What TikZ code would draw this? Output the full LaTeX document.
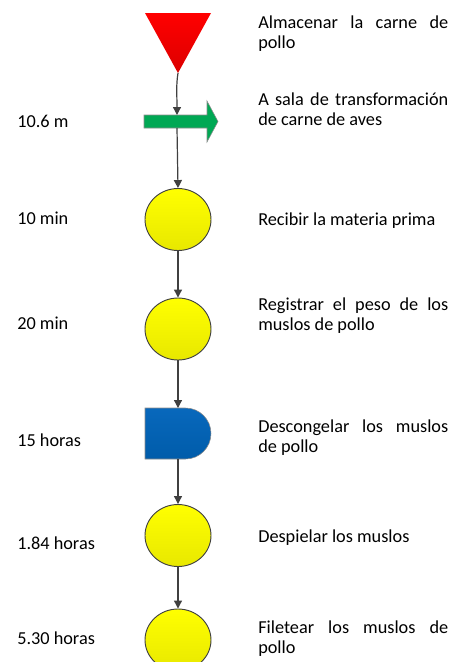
\documentclass[tikz,border=0pt]{standalone}
\usepackage{fontspec}
\setmainfont{Carlito}
\usetikzlibrary{shapes.geometric,arrows.meta}
\definecolor{lineg}{RGB}{64,64,64}
\definecolor{redA}{RGB}{255,0,0}
\definecolor{redB}{RGB}{220,0,0}
\definecolor{greenA}{RGB}{0,168,84}
\definecolor{yelA}{RGB}{255,255,0}
\definecolor{yelB}{RGB}{232,232,0}
\definecolor{blueA}{RGB}{8,104,188}
\definecolor{blueB}{RGB}{0,92,170}
\tikzset{
  lbl/.style={font=\fontsize{13.7}{15}\selectfont, inner sep=0pt},
  desc/.style={lbl, anchor=north west, text width=142.5pt, align=justify},
  opcircle/.style={ellipse, draw=lineg, line width=0.7pt, minimum width=49.5pt, minimum height=46.5pt, inner sep=0pt, top color=yelA, bottom color=yelB},
  flow/.style={draw=lineg, line width=0.9pt, -{Triangle[length=6pt,width=6pt]}},
  outl/.style={draw=lineg!70, line width=0.5pt}
}
\begin{document}
\begin{tikzpicture}[x=0.75pt,y=-0.75pt]
\useasboundingbox (0,0) rectangle (459,662);
% storage triangle
\path[outl, top color=redA, bottom color=redB, draw=none] (145,13) -- (211,13) -- (178,73) -- cycle;
\coordinate (tri) at (178,73);
% transport arrow
\path[fill=greenA, draw=lineg!60, line width=0.4pt] (144,115) -- (207,115) -- (207,101) -- (218,121.5) -- (207,142) -- (207,128) -- (144,128) -- cycle;
\coordinate (arrT) at (177,115);
\coordinate (arrB) at (177,128);
% operations
\node[opcircle] (c1) at (178,219.5) {};
\node[opcircle] (c2) at (178,329) {};
% delay
\path[top color=blueA, bottom color=blueB, draw=lineg!60, line width=0.4pt] (145,408) -- (185.5,408) arc[start angle=90, end angle=-90, radius=19.125pt] -- (145,459) -- cycle;
\coordinate (dT) at (178,408);
\coordinate (dB) at (178,459);
\node[opcircle] (c3) at (178,535.5) {};
\node[opcircle] (c4) at (178,640) {};
% connectors
\draw[flow] (tri) .. controls (176,85) and (177,95) .. (arrT);
\draw[flow] (arrB) -- (c1.north);
\draw[flow] (c1.south) -- (c2.north);
\draw[flow] (c2.south) -- (dT);
\draw[flow] (dB) -- (c3.north);
\draw[flow] (c3.south) -- (c4.north);
% left labels
\node[lbl, anchor=base west] (t1) at (17,127) {10.6 m};
\node[lbl, anchor=base west] (t2) at (17,224) {10 min};
\node[lbl, anchor=base west] (t3) at (17,329) {20 min};
\node[lbl, anchor=base west] (t4) at (17,446) {15 horas};
\node[lbl, anchor=base west] (t5) at (17,549) {1.84 horas};
\node[lbl, anchor=base west] (t6) at (17,644) {5.30 horas};
% right descriptions
\node[desc] (d1) at (258,16) {Almacenar la carne de pollo};
\node[desc] (d2) at (258,93) {A sala de transformación de carne de aves};
\node[lbl, anchor=base west] (d3) at (258,225) {Recibir la materia prima};
\node[desc] (d4) at (258,298) {Registrar el peso de los muslos de pollo};
\node[desc] (d5) at (258,420) {Descongelar los muslos de pollo};
\node[lbl, anchor=base west] (d6) at (258,542) {Despielar los muslos};
\node[desc] (d7) at (258,621) {Filetear los muslos de pollo};
\end{tikzpicture}
\end{document}
